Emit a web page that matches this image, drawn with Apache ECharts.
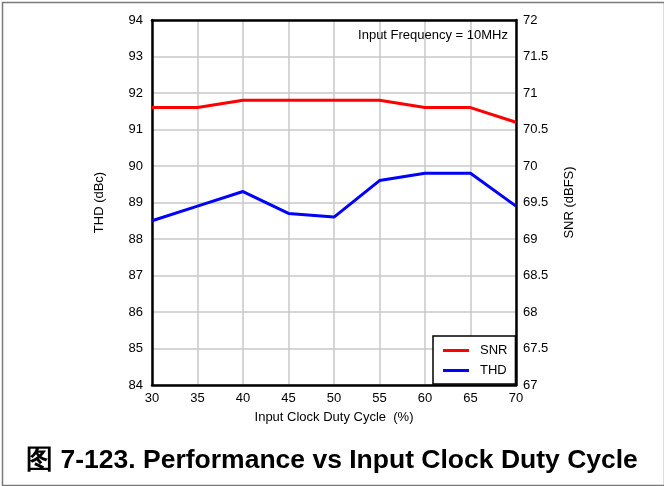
<!DOCTYPE html>
<html>
<head>
<meta charset="utf-8">
<script src="https://cdn.jsdelivr.net/npm/echarts@6/dist/echarts.min.js"></script>
<style>
  html, body { margin: 0; padding: 0; background: #fff; }
  #chart { width: 664px; height: 486px; }
</style>
</head>
<body>
<div id="chart"></div>
<script>
// Input clock duty cycle (%)
const dutyCycle = [30, 35, 40, 45, 50, 55, 60, 65, 70];
// SNR (dBFS), right axis
const snr = [70.8, 70.8, 70.9, 70.9, 70.9, 70.9, 70.8, 70.8, 70.6];
// THD (dBc), left axis
const thd = [88.5, 88.9, 89.3, 88.7, 88.6, 89.6, 89.8, 89.8, 88.9];

const xTicks = { min: 30, max: 70, step: 5 };
const thdTicks = { min: 84, max: 94, step: 1 };
const snrTicks = { min: 67, max: 72, step: 0.5 };

const font = 'Liberation Sans, Arial, Helvetica, sans-serif';
const chart = echarts.init(document.getElementById('chart'), null, { renderer: 'canvas' });

const frameLine = { show: true, onZero: false, lineStyle: { color: '#000', width: 2.5 } };
const gridLine = { show: true, lineStyle: { color: '#c8c8c8', width: 1.5 } };

chart.setOption({
  animation: false,
  backgroundColor: '#fff',
  grid: { left: 152, top: 20, width: 364, height: 365, containLabel: false },
  title: {
    text: '图 7-123. Performance vs Input Clock Duty Cycle',
    left: 'center', top: 442,
    textStyle: { fontFamily: font, fontSize: 26.5, fontWeight: 'bold', color: '#000' }
  },
  legend: {
    orient: 'vertical',
    left: 433, top: 336,
    padding: [8, 8, 7, 10],
    backgroundColor: '#fff',
    borderColor: '#000', borderWidth: 1.5,
    icon: 'rect', itemWidth: 26, itemHeight: 3, itemGap: 7,
    textStyle: { fontFamily: font, fontSize: 13, color: '#000', padding: [0, 0, 0, 6] },
    data: ['SNR', 'THD']
  },
  xAxis: [
    {
      type: 'value', min: xTicks.min, max: xTicks.max, interval: xTicks.step,
      name: 'Input Clock Duty Cycle  (%)', nameLocation: 'middle', nameGap: 26,
      nameTextStyle: { fontFamily: font, fontSize: 13, color: '#000' },
      axisLine: frameLine, axisTick: { show: false },
      axisLabel: { fontFamily: font, fontSize: 13, color: '#000', margin: 7 },
      splitLine: gridLine, z: 3
    },
    {
      // top edge of the plot frame
      type: 'value', position: 'top', min: xTicks.min, max: xTicks.max, interval: xTicks.step,
      axisLine: frameLine, axisTick: { show: false }, axisLabel: { show: false },
      splitLine: { show: false }, z: 3
    }
  ],
  yAxis: [
    {
      type: 'value', position: 'left', min: thdTicks.min, max: thdTicks.max, interval: thdTicks.step,
      name: 'THD (dBc)', nameLocation: 'middle', nameGap: 46, nameRotate: 90,
      nameTextStyle: { fontFamily: font, fontSize: 13, color: '#000' },
      axisLine: frameLine, axisTick: { show: false },
      axisLabel: { fontFamily: font, fontSize: 13, color: '#000', margin: 9 },
      splitLine: gridLine, z: 3
    },
    {
      type: 'value', position: 'right', min: snrTicks.min, max: snrTicks.max, interval: snrTicks.step,
      name: 'SNR (dBFS)', nameLocation: 'middle', nameGap: 47, nameRotate: 90,
      nameTextStyle: { fontFamily: font, fontSize: 13, color: '#000' },
      axisLine: frameLine, axisTick: { show: false },
      axisLabel: { fontFamily: font, fontSize: 13, color: '#000', margin: 7 },
      splitLine: { show: false }, z: 3
    }
  ],
  graphic: [
    {
      type: 'rect', left: 0, top: 0, z: -10, silent: true,
      shape: { x: 0.5, y: 0.5, width: 662, height: 483 },
      style: { fill: 'none', stroke: '#7a7a7a', lineWidth: 1.5 }
    },
    {
      type: 'text', right: 156, top: 29, z: 10,
      style: { text: 'Input Frequency = 10MHz', font: '13px ' + font, fill: '#000' }
    }
  ],
  series: [
    {
      name: 'SNR', type: 'line', yAxisIndex: 1, showSymbol: false, symbol: 'none',
      lineStyle: { color: '#ff0000', width: 3 }, itemStyle: { color: '#ff0000' },
      data: dutyCycle.map((d, i) => [d, snr[i]])
    },
    {
      name: 'THD', type: 'line', yAxisIndex: 0, showSymbol: false, symbol: 'none',
      lineStyle: { color: '#0000ff', width: 3 }, itemStyle: { color: '#0000ff' },
      data: dutyCycle.map((d, i) => [d, thd[i]])
    }
  ]
});
</script>
</body>
</html>
